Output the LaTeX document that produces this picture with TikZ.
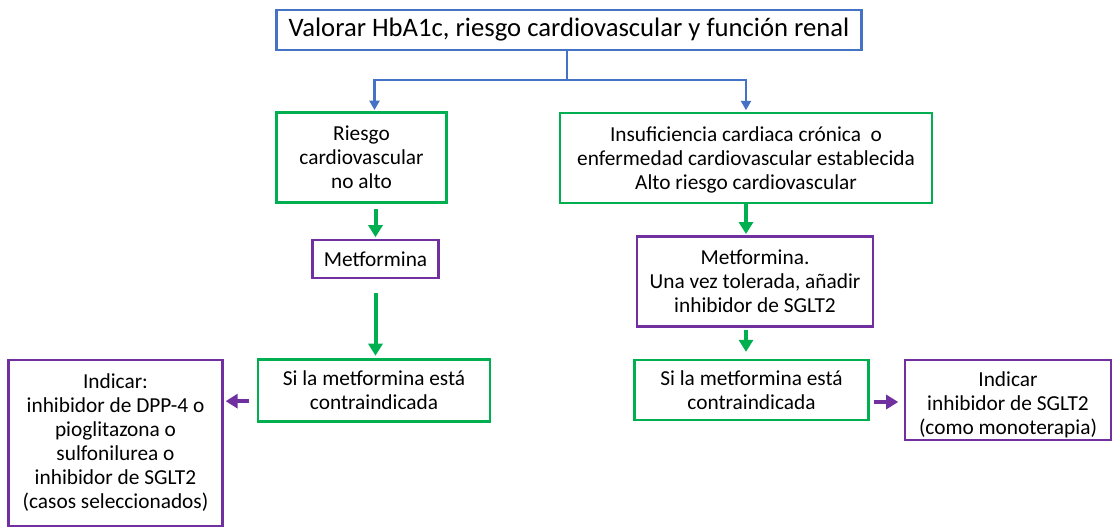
\documentclass[tikz,border=0pt]{standalone}
\usepackage{fontspec}
\setmainfont{Carlito}
\usetikzlibrary{arrows.meta}
\definecolor{azul}{HTML}{4472C4}
\definecolor{verde}{HTML}{00B050}
\definecolor{morado}{HTML}{7030A0}
\tikzset{
  caja/.style={draw, line width=2.2pt, inner sep=0pt, align=center,
    font=\fontsize{16}{18}\selectfont},
  cajaazul/.style={caja, draw=azul, font=\fontsize{20}{24}\selectfont},
  cajaverde/.style={caja, draw=verde},
  cajamorada/.style={caja, draw=morado},
  flechaazul/.style={draw=azul, line width=1.6pt, -{Triangle[length=7pt,width=7.5pt]}},
  flechaverde/.style={draw=verde, line width=3pt, -{Triangle[length=9pt,width=10.5pt]}},
  flechamorada/.style={draw=morado, line width=3pt, -{Triangle[length=9pt,width=10.5pt]}}
}
\begin{document}
\begin{tikzpicture}[x=0.75pt,y=-0.75pt]
  \useasboundingbox (0,0) rectangle (1113,528);
  \draw
    (569,30) node[cajaazul, minimum width=439pt, minimum height=30pt] (valorar)
      {Valorar HbA1c, riesgo cardiovascular y función renal}
    (361.5,157.5) node[cajaverde, minimum width=128pt, minimum height=67pt] (riesgo)
      {Riesgo\\cardiovascular\\no alto}
    (746,158) node[cajaverde, minimum width=279pt, minimum height=67.5pt] (icc)
      {\rule{0pt}{14pt}Insuficiencia cardiaca crónica\ \ o\\enfermedad cardiovascular establecida\\Alto riesgo cardiovascular}
    (375.5,259) node[cajamorada, minimum width=94pt, minimum height=28.5pt] (metf1)
      {Metformina}
    (755,281.5) node[cajamorada, minimum width=177pt, minimum height=67pt] (metf2)
      {Metformina.\\Una vez tolerada, añadir\\inhibidor de SGLT2}
    (374,390.5) node[cajaverde, minimum width=174pt, minimum height=46pt] (contra1)
      {Si la metformina está\\contraindicada}
    (751.5,390) node[cajaverde, minimum width=175pt, minimum height=45pt] (contra2)
      {Si la metformina está\\contraindicada}
    (115.5,443) node[cajamorada, minimum width=161pt, minimum height=124.5pt] (indicar1)
      {Indicar:\\inhibidor de DPP-4 o\\pioglitazona o\\sulfonilurea o\\inhibidor de SGLT2\\(casos seleccionados)}
    (1008,400) node[cajamorada, minimum width=154.5pt, minimum height=60pt] (indicar2)
      {\rule{0pt}{19pt}Indicar\\inhibidor de SGLT2\\(como monoterapia)};
  \coordinate (rama) at (567,80);
  \begin{scope}[shorten >=1pt]
    \draw[azul, line width=1.6pt] (valorar.south -| rama) -- (rama);
    \draw[flechaazul] (rama) -| ([xshift=9.75pt]riesgo.north);
    \draw[flechaazul] (rama) -| (icc.north);
    \draw[flechaverde, shorten <=4pt] (metf1.north |- riesgo.south) -- (metf1.north);
    \draw[flechaverde, shorten <=10.5pt, shorten >=2pt] (metf1.south) -- (metf1.south |- contra1.north);
    \draw[flechaverde] (icc.south) -- (icc.south |- metf2.north);
    \draw[flechaverde, shorten <=1.5pt, shorten >=5pt] (icc.south |- metf2.south) -- (icc.south |- contra2.north);
    \draw[flechamorada, shorten <=6pt] ([yshift=-8pt]contra1.west) -- ([yshift=-8pt]contra1.west -| indicar1.east);
    \draw[flechamorada, shorten <=3pt, shorten >=4pt] ([yshift=-9pt]contra2.east) -- ([yshift=-9pt]contra2.east -| indicar2.west);
  \end{scope}
\end{tikzpicture}
\end{document}
